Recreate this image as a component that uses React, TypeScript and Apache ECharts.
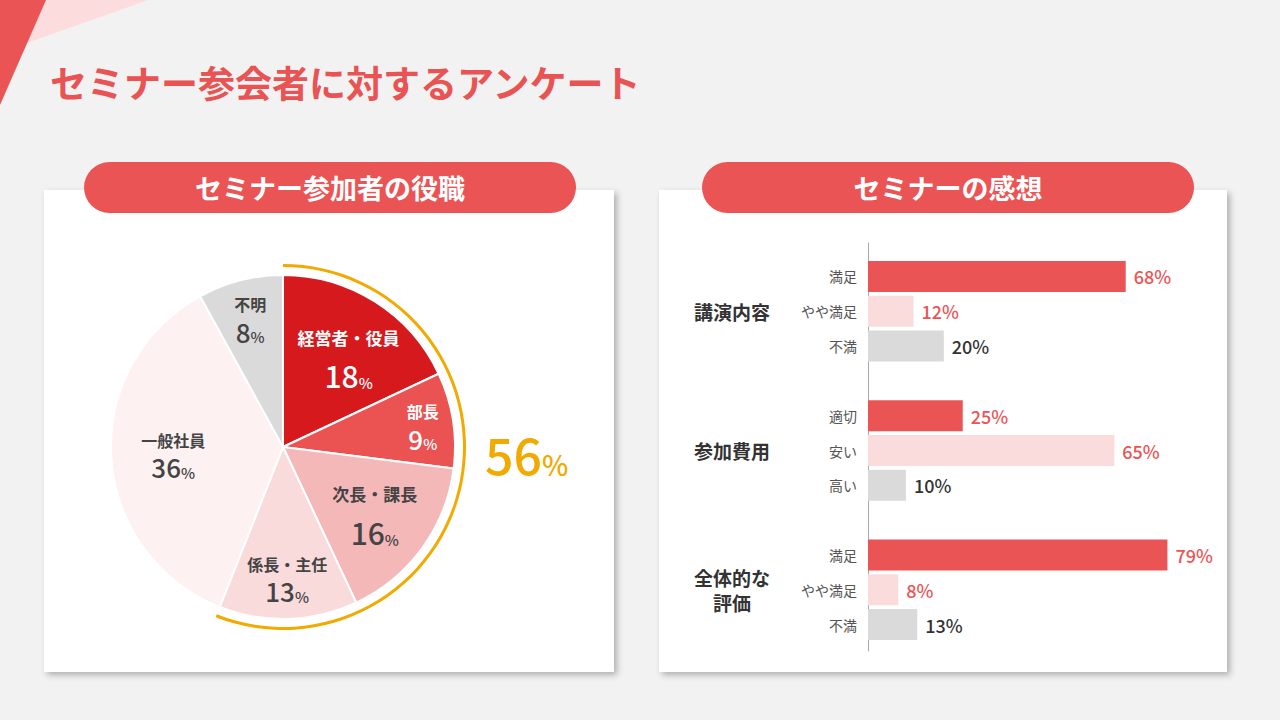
import { useEffect, useRef } from 'react';
import * as echarts from 'echarts';

// ---------- data ----------
const pageTitle = 'セミナー参会者に対するアンケート';
const leftPanelTitle = 'セミナー参加者の役職';
const rightPanelTitle = 'セミナーの感想';

const roleNames = ['経営者・役員', '部長', '次長・課長', '係長・主任', '一般社員', '不明'];
const roleValues = [18, 9, 16, 13, 36, 8];
const highlightedRoleCount = 4;

const groupNames = ['講演内容', '参加費用', '全体的な\n評価'];
const answerNames = [
  ['満足', 'やや満足', '不満'],
  ['適切', '安い', '高い'],
  ['満足', 'やや満足', '不満'],
];
const answerValues = [
  [68, 12, 20],
  [25, 65, 10],
  [79, 8, 13],
];

// ---------- styles ----------
const FONT = '"Noto Sans CJK JP", "Noto Sans", sans-serif';
const RED = '#eb5454';
const ORANGE = '#f2aa00';
const roleColors = ['#d6191d', '#eb5353', '#f5b8b9', '#fadbdc', '#fdf1f1', '#dadada'];
const roleTextColors = ['#ffffff', '#ffffff', '#444444', '#444444', '#444444', '#444444'];
const roleLabelInner = [52, 103, 49, 86, 42, 86];
const roleLabelPadding = [
  [15, 0, 0, 8],
  [2, 0, 0, 2],
  [0, 0, 0, 0],
  [0, 0, 0, 0],
  [2, 0, 0, 0],
  [0, 0, 0, 0],
];
const roleLabelBig = [true, false, true, false, false, false];
const answerColors = ['#eb5454', '#fbdcdd', '#dadada'];
const answerLabelColors = ['#eb5454', '#eb5454', '#333333'];

const PIE_CENTER = [283, 447];
const PIE_R = 172;

function buildOption() {
  const total = roleValues.reduce((a, b) => a + b, 0);
  const highlightSum = roleValues.slice(0, highlightedRoleCount).reduce((a, b) => a + b, 0);

  const pieData = roleNames.map((name, i) => ({
    name,
    value: roleValues[i],
    itemStyle: { color: roleColors[i] },
  }));

  const labelSeries = roleNames.map((_, idx) => ({
    type: 'pie',
    center: PIE_CENTER,
    radius: [roleLabelInner[idx], PIE_R],
    startAngle: 90,
    clockwise: true,
    silent: true,
    z: 4,
    emphasis: { disabled: true },
    labelLine: { show: false },
    label: { show: false },
    itemStyle: { color: 'rgba(0,0,0,0)', borderWidth: 0 },
    data: roleNames.map((name, i) => {
      const big = roleLabelBig[i];
      const c = roleTextColors[i];
      return {
        name,
        value: roleValues[i],
        itemStyle: { color: 'rgba(0,0,0,0)' },
        label:
          i === idx
            ? {
                show: true,
                position: 'inside',
                padding: roleLabelPadding[i],
                formatter: '{n|{b}}\n{v|{c}}{p|%}',
                rich: {
                  n: {
                    fontFamily: FONT,
                    fontSize: big ? 17 : 16,
                    fontWeight: 'bold',
                    color: c,
                    lineHeight: big ? 26 : 20,
                    align: 'center',
                  },
                  v: {
                    fontFamily: FONT,
                    fontSize: big ? 30 : 26,
                    fontWeight: 500,
                    color: c,
                    lineHeight: big ? 40 : 30,
                    verticalAlign: 'bottom',
                  },
                  p: {
                    fontFamily: FONT,
                    fontSize: 15,
                    fontWeight: 500,
                    color: c,
                    lineHeight: big ? 29 : 22,
                    verticalAlign: 'bottom',
                  },
                },
              }
            : { show: false },
      };
    }),
  }));

  // bar rows
  const rowLabels: string[] = [];
  const rowGroupLabels: string[] = [];
  const barData: any[] = [];
  groupNames.forEach((g, gi) => {
    if (gi > 0) {
      rowLabels.push('');
      rowGroupLabels.push('');
      barData.push('-');
    }
    answerNames[gi].forEach((a, ai) => {
      rowLabels.push(a);
      rowGroupLabels.push(ai === 1 ? g : '');
      barData.push({
        value: answerValues[gi][ai],
        itemStyle: { color: answerColors[ai] },
        label: { color: answerLabelColors[ai] },
      });
    });
  });

  const cardShadow = {
    shadowBlur: 6,
    shadowOffsetX: 3,
    shadowOffsetY: 3,
    shadowColor: 'rgba(0,0,0,0.28)',
  };

  return {
    animation: false,
    backgroundColor: '#f2f2f2',
    textStyle: { fontFamily: FONT },
    title: {
      text: `{a|${highlightSum}}{b|%}`,
      left: 480,
      top: 413,
      textStyle: {
        rich: {
          a: {
            fontFamily: FONT,
            fontSize: 50,
            fontWeight: 500,
            color: ORANGE,
            lineHeight: 60,
            verticalAlign: 'bottom',
          },
          b: {
            fontFamily: FONT,
            fontSize: 28,
            fontWeight: 500,
            color: ORANGE,
            lineHeight: 43,
            verticalAlign: 'bottom',
          },
        },
      },
    },
    graphic: [
      {
        type: 'polygon',
        shape: { points: [[46, 0], [148, 0], [27, 43]] },
        style: { fill: '#fcdcdc' },
      },
      {
        type: 'polygon',
        shape: { points: [[0, 0], [46, 0], [0, 105]] },
        style: { fill: RED },
      },
      {
        type: 'text',
        x: 50,
        y: 82,
        style: {
          text: pageTitle,
          font: `bold 37px ${FONT}`,
          fill: '#e95353',
          verticalAlign: 'middle',
        },
      },
      {
        type: 'rect',
        shape: { x: 44, y: 190, width: 570, height: 482 },
        style: { fill: '#ffffff', ...cardShadow },
      },
      {
        type: 'rect',
        shape: { x: 659, y: 190, width: 568, height: 482 },
        style: { fill: '#ffffff', ...cardShadow },
      },
      {
        type: 'rect',
        shape: { x: 84, y: 162, width: 492, height: 51, r: 25.5 },
        style: { fill: RED },
      },
      {
        type: 'rect',
        shape: { x: 702, y: 162, width: 492, height: 51, r: 25.5 },
        style: { fill: RED },
      },
      {
        type: 'text',
        x: 330,
        y: 187,
        style: {
          text: leftPanelTitle,
          font: `bold 27px ${FONT}`,
          fill: '#ffffff',
          align: 'center',
          verticalAlign: 'middle',
        },
      },
      {
        type: 'text',
        x: 948,
        y: 187,
        style: {
          text: rightPanelTitle,
          font: `bold 27px ${FONT}`,
          fill: '#ffffff',
          align: 'center',
          verticalAlign: 'middle',
        },
      },
    ],
    grid: [
      { left: 868, top: 259, width: 379, height: 383 },
      { left: 868, top: 243, width: 10, height: 408 },
    ],
    xAxis: [
      { type: 'value', gridIndex: 0, min: 0, max: 100, show: false },
      { type: 'value', gridIndex: 1, min: 0, max: 1, show: false },
    ],
    yAxis: [
      {
        type: 'category',
        gridIndex: 0,
        inverse: true,
        position: 'left',
        data: rowLabels,
        axisLine: { show: false },
        axisTick: { show: false },
        splitLine: { show: false },
        axisLabel: {
          interval: 0,
          margin: 11,
          fontSize: 14,
          color: '#555555',
          fontFamily: FONT,
        },
      },
      {
        type: 'category',
        gridIndex: 0,
        inverse: true,
        position: 'left',
        data: rowGroupLabels,
        axisLine: { show: false },
        axisTick: { show: false },
        splitLine: { show: false },
        axisLabel: {
          interval: 0,
          margin: 136,
          align: 'center',
          fontSize: 19,
          fontWeight: 'bold',
          lineHeight: 25,
          color: '#333333',
          fontFamily: FONT,
        },
      },
      {
        type: 'value',
        gridIndex: 1,
        min: 0,
        max: 1,
        position: 'left',
        axisLine: { show: true, onZero: false, lineStyle: { color: '#aaaaaa', width: 1 } },
        axisTick: { show: false },
        axisLabel: { show: false },
        splitLine: { show: false },
      },
    ],
    series: [
      {
        type: 'pie',
        center: PIE_CENTER,
        radius: [0, PIE_R],
        startAngle: 90,
        clockwise: true,
        silent: true,
        z: 2,
        emphasis: { disabled: true },
        label: { show: false },
        labelLine: { show: false },
        itemStyle: { borderColor: '#ffffff', borderWidth: 2 },
        data: pieData,
      },
      ...labelSeries,
      {
        type: 'pie',
        center: PIE_CENTER,
        radius: [180, 183],
        startAngle: 90,
        clockwise: true,
        silent: true,
        z: 3,
        emphasis: { disabled: true },
        label: { show: false },
        labelLine: { show: false },
        data: [
          { name: 'highlight', value: highlightSum, itemStyle: { color: ORANGE } },
          { name: 'rest', value: total - highlightSum, itemStyle: { color: 'rgba(0,0,0,0)' } },
        ],
      },
      {
        type: 'bar',
        xAxisIndex: 0,
        yAxisIndex: 0,
        barWidth: 31,
        silent: true,
        data: barData,
        label: {
          show: true,
          position: 'right',
          distance: 8,
          formatter: '{c}%',
          fontSize: 18,
          fontWeight: 500,
          fontFamily: FONT,
        },
      },
    ],
  };
}

export default function App() {
  const ref = useRef<HTMLDivElement>(null);
  useEffect(() => {
    if (!ref.current) return;
    const chart = echarts.init(ref.current, null, { renderer: 'svg' });
    chart.setOption(buildOption() as any);
    return () => chart.dispose();
  }, []);
  return (
    <div
      ref={ref}
      style={{ position: 'absolute', left: 0, top: 0, width: 1280, height: 720 }}
    />
  );
}
